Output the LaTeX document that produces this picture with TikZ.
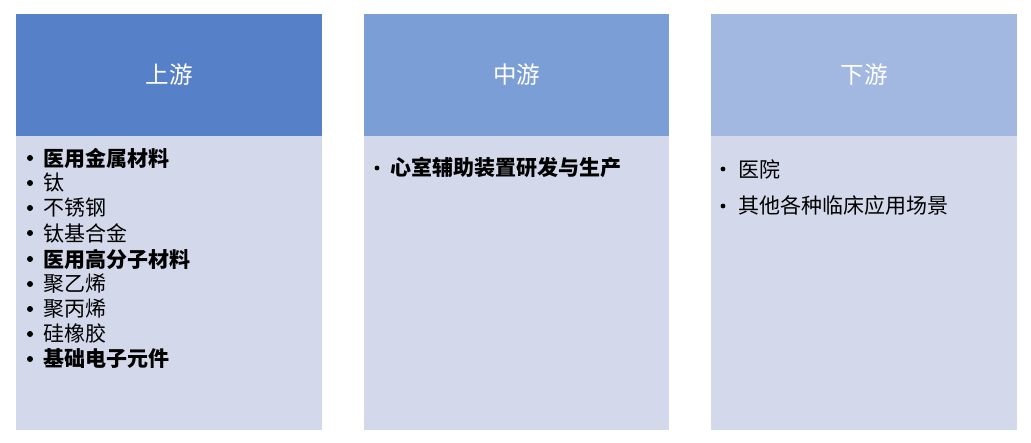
\documentclass[tikz,border=0pt]{standalone}
\usepackage{fontspec}
\setmainfont{Noto Sans CJK SC}
\newfontfamily\cjk{Noto Sans CJK SC}
\definecolor{hdrA}{HTML}{5681C9}
\definecolor{hdrB}{HTML}{7B9ED6}
\definecolor{hdrC}{HTML}{A2B8E1}
\definecolor{bodyc}{HTML}{D3D9EB}
\begin{document}
\begin{tikzpicture}[x=1pt,y=-1pt,
  hdrbox/.style={draw=none,inner sep=0,outer sep=0,text=white,font=\cjk\fontsize{23.5}{28}\selectfont},
  item/.style={anchor=west,inner sep=0,font=\cjk\fontsize{21}{25}\selectfont},
  bolditem/.style={item,font=\cjk\bfseries\fontsize{21}{25}\selectfont},
  bul/.style={circle,fill=black,draw=none,inner sep=0,minimum size=4.8pt},
  bigbul/.style={circle,fill=black,draw=none,inner sep=0,minimum size=6pt}]
\useasboundingbox (0,0) rectangle (1031,442);
% columns
\fill[hdrA] (16,14) rectangle (322,136);
\fill[bodyc] (16,136) rectangle (322,430);
\fill[hdrB] (364,14) rectangle (669,136);
\fill[bodyc] (364,136) rectangle (669,430);
\fill[hdrC] (711,14) rectangle (1017,136);
\fill[bodyc] (711,136) rectangle (1017,430);
\node[hdrbox] (h1) at (169,75) {上游};
\node[hdrbox] (h2) at (516.5,75) {中游};
\node[hdrbox] (h3) at (864,75) {下游};
% column 1
\foreach \y/\t/\s in {158/医用金属材料/bolditem,183/钛/item,208/不锈钢/item,233/钛基合金/item,259/医用高分子材料/bolditem,284/聚乙烯/item,309/聚丙烯/item,334/硅橡胶/item,359/基础电子元件/bolditem}{
  \node[bigbul] (b\y) at (30,\y) {};
  \node[\s] (t\y) at (43,\y) {\t};
}
% column 2
\node[bul] (b2) at (377,168) {};
\node[bolditem] (m1) at (390,168) {心室辅助装置研发与生产};
% column 3
\node[bul] (c1b) at (723,169) {};
\node[item] (c1) at (738,169) {医院};
\node[bul] (c2b) at (723,206) {};
\node[item] (c2) at (738,206) {其他各种临床应用场景};
\end{tikzpicture}
\end{document}
